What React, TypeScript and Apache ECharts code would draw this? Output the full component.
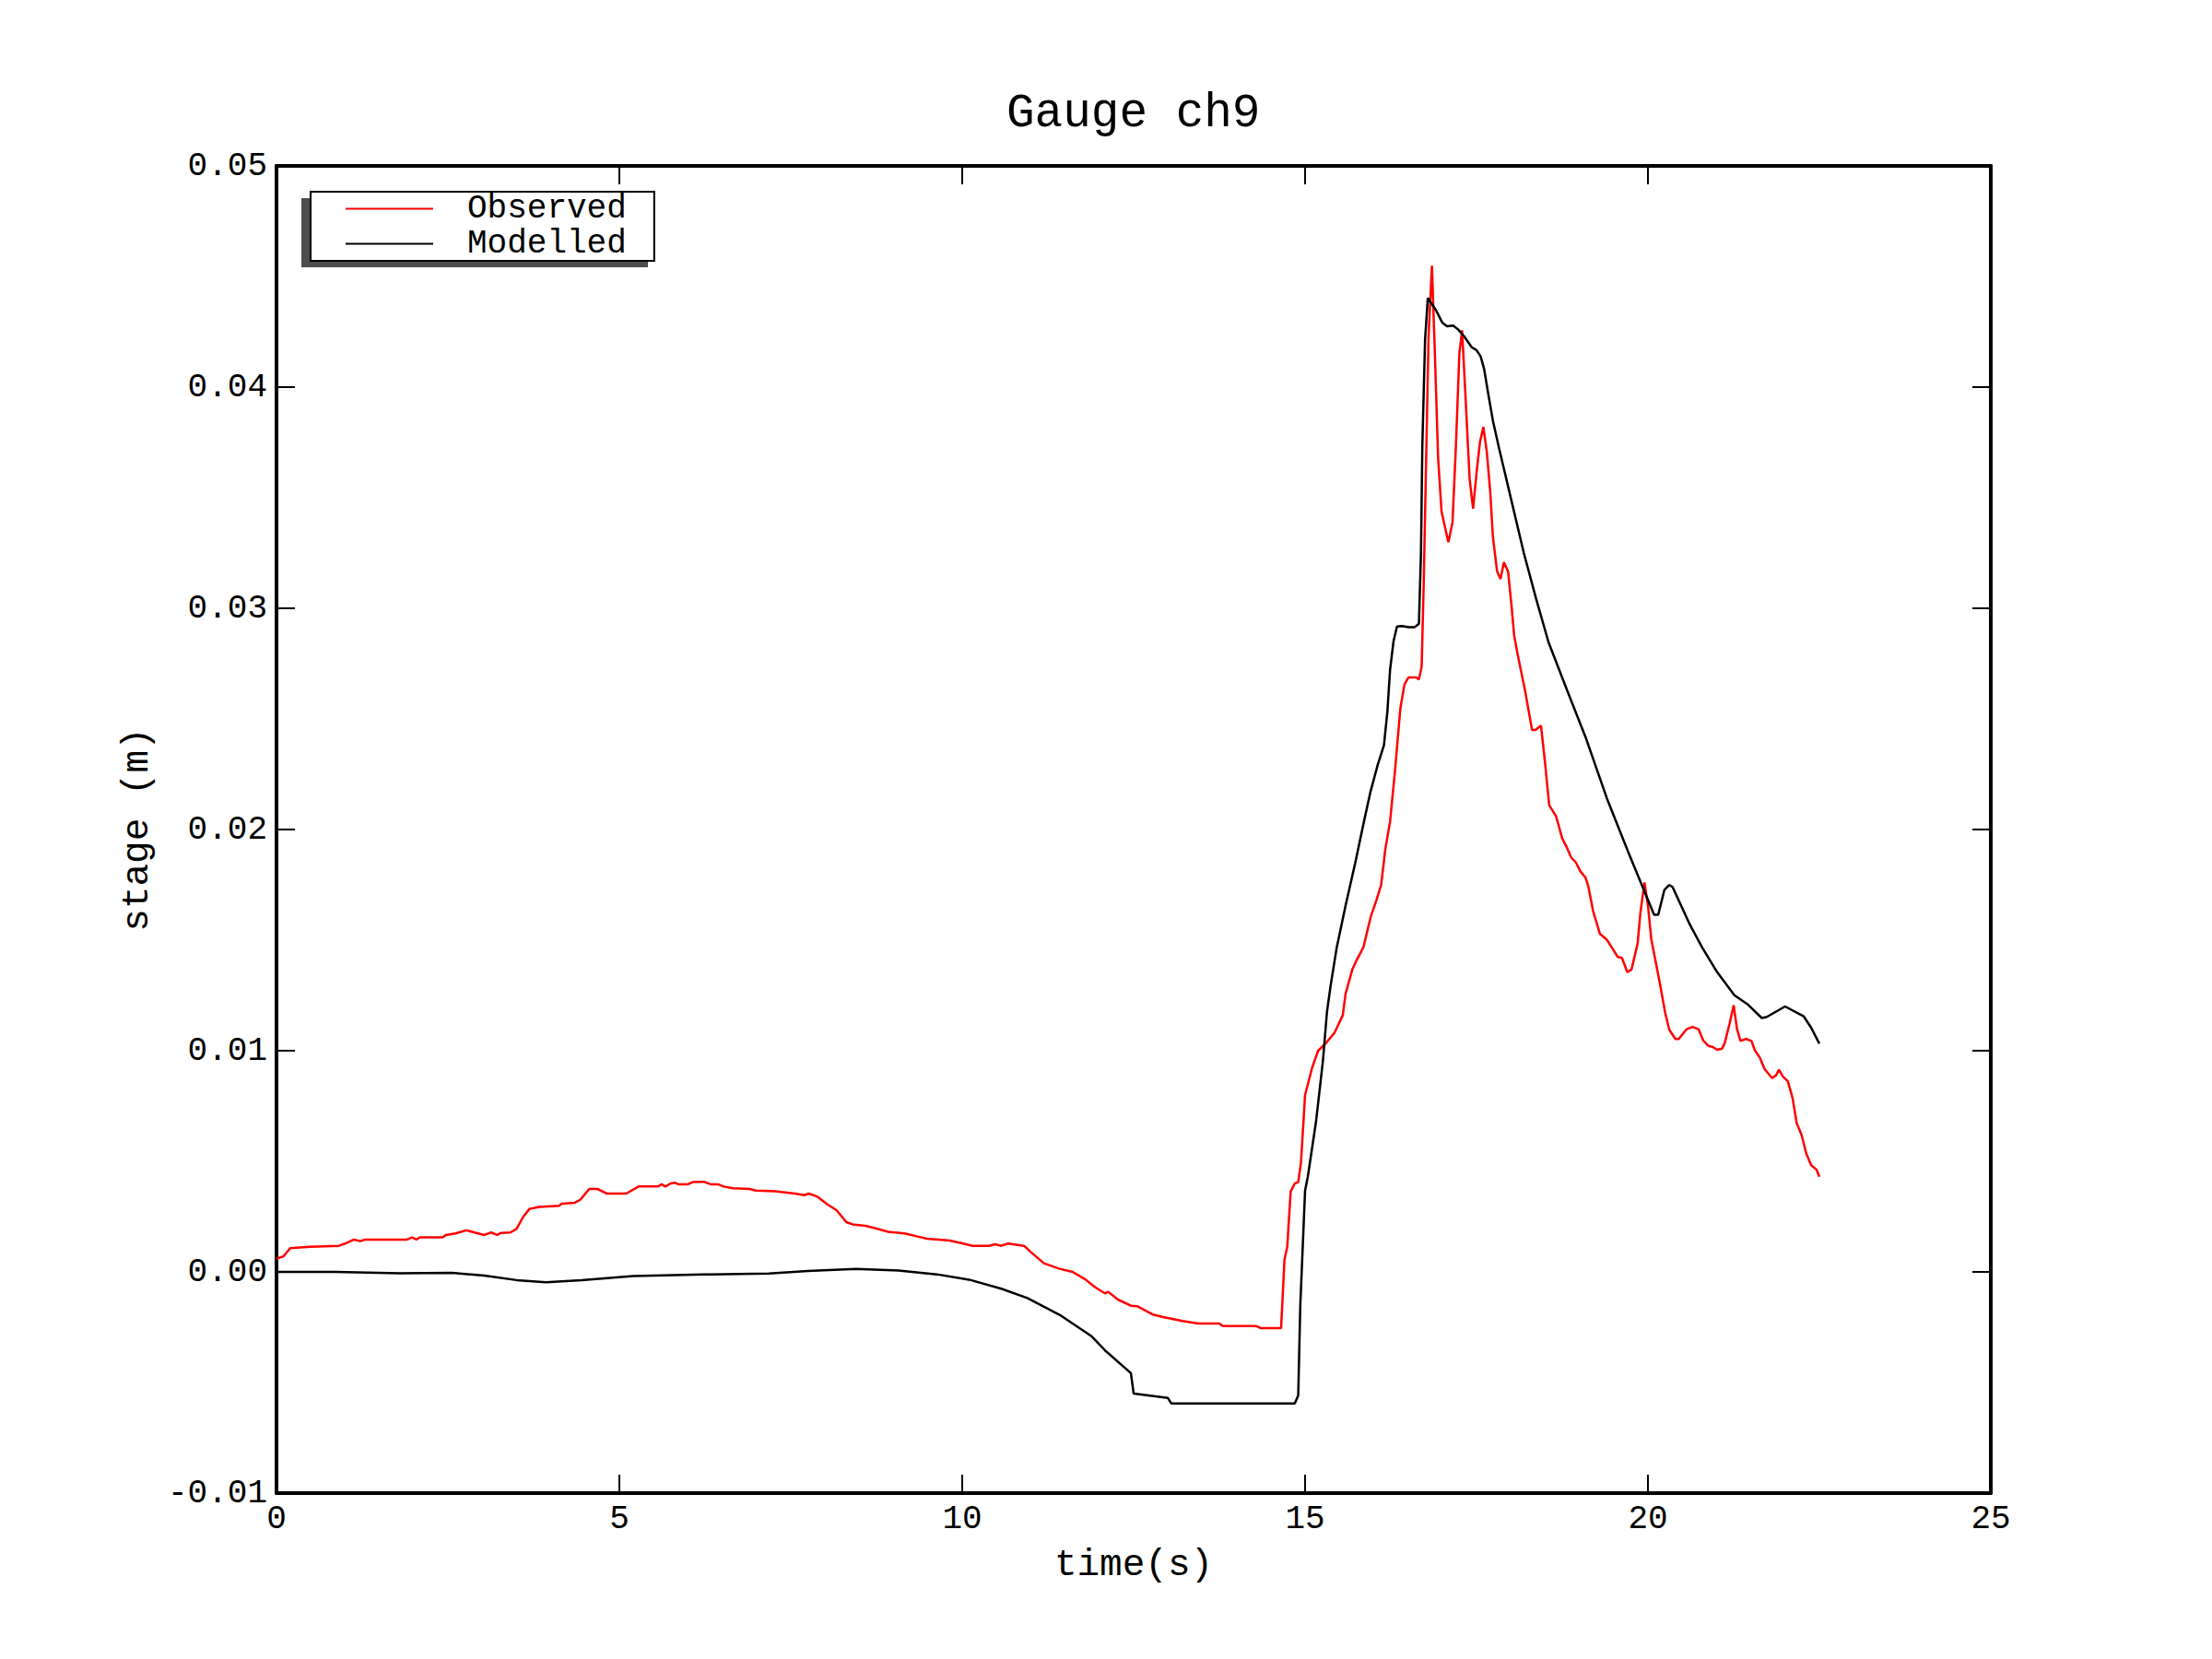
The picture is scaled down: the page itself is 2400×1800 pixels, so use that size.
import React, { useEffect, useRef } from "react";
import * as echarts from "echarts";

const obsT = [0, 0.1, 0.2, 0.49, 0.91, 1.0, 1.13, 1.22, 1.29, 1.9, 1.98, 2.04, 2.09, 2.42, 2.47, 2.61, 2.77, 2.89, 3.03, 3.13, 3.22, 3.27, 3.41, 3.5, 3.6, 3.69, 3.83, 4.12, 4.16, 4.35, 4.43, 4.56, 4.68, 4.82, 5.1, 5.28, 5.56, 5.62, 5.67, 5.75, 5.81, 5.86, 6.0, 6.07, 6.24, 6.33, 6.44, 6.52, 6.66, 6.9, 6.99, 7.27, 7.56, 7.7, 7.76, 7.89, 8.03, 8.17, 8.31, 8.4, 8.59, 8.74, 8.92, 9.16, 9.35, 9.49, 9.82, 10.0, 10.15, 10.39, 10.48, 10.57, 10.67, 10.9, 11.0, 11.19, 11.42, 11.61, 11.8, 11.94, 12.08, 12.13, 12.27, 12.46, 12.55, 12.79, 12.93, 13.21, 13.44, 13.75, 13.8, 14.29, 14.35, 14.65, 14.7, 14.74, 14.79, 14.85, 14.9, 14.94, 15.0, 15.1, 15.19, 15.3, 15.43, 15.55, 15.59, 15.69, 15.75, 15.85, 15.96, 16.04, 16.11, 16.17, 16.24, 16.31, 16.39, 16.45, 16.51, 16.62, 16.66, 16.7, 16.73, 16.8, 16.85, 16.89, 16.94, 16.99, 17.05, 17.09, 17.15, 17.2, 17.25, 17.29, 17.33, 17.4, 17.45, 17.5, 17.55, 17.6, 17.65, 17.7, 17.74, 17.8, 17.85, 17.9, 17.96, 18.01, 18.05, 18.1, 18.21, 18.31, 18.36, 18.44, 18.5, 18.56, 18.66, 18.75, 18.82, 18.88, 18.95, 19.01, 19.09, 19.13, 19.2, 19.3, 19.4, 19.47, 19.56, 19.62, 19.7, 19.76, 19.85, 19.89, 19.95, 20.0, 20.05, 20.11, 20.18, 20.25, 20.31, 20.4, 20.45, 20.56, 20.65, 20.74, 20.81, 20.88, 20.94, 21.01, 21.08, 21.12, 21.19, 21.25, 21.3, 21.35, 21.43, 21.51, 21.56, 21.63, 21.7, 21.81, 21.87, 21.91, 21.97, 22.04, 22.11, 22.17, 22.24, 22.31, 22.38, 22.46, 22.5];
const obsV = [0.0006, 0.0007, 0.00107, 0.00114, 0.00118, 0.00128, 0.00146, 0.00139, 0.00146, 0.00146, 0.00156, 0.00146, 0.00156, 0.00156, 0.00167, 0.00174, 0.00188, 0.00178, 0.00167, 0.00178, 0.00167, 0.00176, 0.00178, 0.00194, 0.0025, 0.00285, 0.00294, 0.00299, 0.00308, 0.00313, 0.00326, 0.00375, 0.00375, 0.00354, 0.00354, 0.00386, 0.00386, 0.00396, 0.00386, 0.004, 0.00403, 0.00396, 0.00396, 0.00406, 0.00407, 0.00396, 0.00396, 0.00386, 0.00378, 0.00375, 0.00368, 0.00365, 0.00354, 0.00347, 0.00354, 0.0034, 0.00306, 0.00278, 0.00225, 0.00215, 0.00208, 0.00197, 0.00181, 0.00174, 0.0016, 0.0015, 0.00142, 0.00129, 0.00118, 0.00118, 0.00125, 0.00118, 0.00128, 0.00118, 0.0009, 0.00039, 0.00014, 0.0, -0.00035, -0.0007, -0.00097, -0.0009, -0.00125, -0.00153, -0.00155, -0.00194, -0.00204, -0.00222, -0.00233, -0.00233, -0.00245, -0.00245, -0.00254, -0.00254, 0.00055, 0.00114, 0.00364, 0.004, 0.00406, 0.00493, 0.008, 0.0092, 0.01, 0.01033, 0.01081, 0.01161, 0.01257, 0.01368, 0.01408, 0.01467, 0.01608, 0.0168, 0.01751, 0.0191, 0.02038, 0.02261, 0.02548, 0.02657, 0.02688, 0.02688, 0.02678, 0.02736, 0.03111, 0.04222, 0.04549, 0.0418, 0.0368, 0.03438, 0.03354, 0.03299, 0.03389, 0.03736, 0.04153, 0.04257, 0.04014, 0.03583, 0.03451, 0.03611, 0.0375, 0.0382, 0.03708, 0.03528, 0.0332, 0.03167, 0.03132, 0.03208, 0.03167, 0.03014, 0.02875, 0.02792, 0.02625, 0.0245, 0.0245, 0.0247, 0.023, 0.0211, 0.0206, 0.0196, 0.01917, 0.01874, 0.01851, 0.01813, 0.01782, 0.01744, 0.01632, 0.01528, 0.01502, 0.01468, 0.01424, 0.0142, 0.01355, 0.01367, 0.01485, 0.01623, 0.01761, 0.01657, 0.01502, 0.01407, 0.01295, 0.01174, 0.01096, 0.01053, 0.01053, 0.01096, 0.01108, 0.01096, 0.01044, 0.01022, 0.01018, 0.01004, 0.01009, 0.01035, 0.01122, 0.01205, 0.01096, 0.01044, 0.01053, 0.01044, 0.01001, 0.0097, 0.00918, 0.00876, 0.00889, 0.00914, 0.00883, 0.00862, 0.00785, 0.00672, 0.0062, 0.00534, 0.00482, 0.00462, 0.0043];

const modT = [0, 0.86, 1.8, 2.56, 3.03, 3.5, 3.93, 4.45, 5.2, 6.33, 7.18, 7.75, 8.45, 9.07, 9.63, 10.1, 10.57, 10.95, 11.42, 11.89, 12.08, 12.46, 12.5, 13.0, 13.05, 14.85, 14.9, 14.93, 15.0, 15.04, 15.16, 15.26, 15.32, 15.37, 15.46, 15.59, 15.73, 15.86, 15.95, 16.06, 16.15, 16.2, 16.24, 16.29, 16.34, 16.41, 16.51, 16.6, 16.66, 16.69, 16.71, 16.75, 16.79, 16.91, 17.0, 17.07, 17.16, 17.23, 17.32, 17.43, 17.5, 17.56, 17.61, 17.67, 17.74, 17.83, 18.01, 18.19, 18.37, 18.55, 18.82, 19.09, 19.4, 19.71, 19.94, 20.09, 20.15, 20.24, 20.31, 20.36, 20.61, 20.79, 21.01, 21.26, 21.46, 21.66, 21.73, 22.0, 22.27, 22.38, 22.5];
const modV = [0, 0, -0.00006, -0.00004, -0.00017, -0.00037, -0.00047, -0.00037, -0.00019, -0.00011, -0.00007, 0.00004, 0.00014, 0.00006, -0.00011, -0.00035, -0.00076, -0.00118, -0.00194, -0.00292, -0.00354, -0.00458, -0.0055, -0.0057, -0.00595, -0.00595, -0.00558, -0.00153, 0.00368, 0.0043, 0.0068, 0.00954, 0.01177, 0.01289, 0.01464, 0.01655, 0.01847, 0.02038, 0.02166, 0.02293, 0.02381, 0.02532, 0.02724, 0.02851, 0.02918, 0.0292, 0.02915, 0.02915, 0.0293, 0.0325, 0.03736, 0.04215, 0.04403, 0.04347, 0.04292, 0.04275, 0.04278, 0.04261, 0.04229, 0.0418, 0.04167, 0.04139, 0.04083, 0.03972, 0.03847, 0.03722, 0.03486, 0.0325, 0.03042, 0.02847, 0.0263, 0.02418, 0.02142, 0.019, 0.01727, 0.01615, 0.01615, 0.01727, 0.01749, 0.0174, 0.01571, 0.01467, 0.01355, 0.01251, 0.01208, 0.01148, 0.01152, 0.012, 0.01156, 0.01104, 0.01032];

const seriesNames = ["Observed", "Modelled"];
const titleText = "Gauge ch9";
const xName = "time(s)";
const yName = "stage (m)";

const FONT = "'Liberation Mono', 'DejaVu Sans Mono', monospace";

export default function App() {
  const ref = useRef<HTMLDivElement>(null);
  useEffect(() => {
    if (!ref.current) return;
    const chart = echarts.init(ref.current, undefined, { renderer: "svg" });
    const axisLine = { show: true, onZero: false, lineStyle: { color: "#000", width: 4 } };
    const tick = { show: true, inside: true, length: 20, lineStyle: { color: "#000", width: 2 } };
    const xBase = { type: "value", min: 0, max: 25, interval: 5, splitLine: { show: false }, axisLine, axisTick: tick };
    const yBase = { type: "value", min: -0.01, max: 0.05, interval: 0.01, splitLine: { show: false }, axisLine, axisTick: tick };
    chart.setOption({
      animation: false,
      backgroundColor: "#fff",
      title: {
        text: titleText,
        left: 1092,
        top: 98,
        padding: 0,
        textStyle: { fontFamily: FONT, fontSize: 51, fontWeight: "normal", color: "#000" },
      },
      grid: { left: 300, right: 240, top: 180, bottom: 180, containLabel: false },
      legend: {
        data: seriesNames,
        orient: "vertical",
        left: 337,
        top: 208,
        padding: [0, 30, 0, 38],
        itemGap: 1,
        itemWidth: 95,
        itemHeight: 2,
        icon: "rect",
        selectedMode: false,
        backgroundColor: "#fff",
        borderColor: "#000",
        borderWidth: 2,
        borderRadius: 0,
        textStyle: { fontFamily: FONT, fontSize: 36, color: "#000", lineHeight: 37, padding: [0, 0, 0, 32] },
      },
      graphic: [
        { type: "rect", z: 1, shape: { x: 327, y: 215, width: 376, height: 75 }, style: { fill: "#4d4d4d" } },
      ],
      xAxis: [
        {
          ...xBase,
          position: "bottom",
          name: xName,
          nameLocation: "middle",
          nameGap: 57,
          nameTextStyle: { fontFamily: FONT, fontSize: 41, color: "#000" },
          axisLabel: { fontFamily: FONT, fontSize: 36, color: "#000", margin: 10 },
        },
        { ...xBase, position: "top", axisLabel: { show: false } },
      ],
      yAxis: [
        {
          ...yBase,
          position: "left",
          name: yName,
          nameLocation: "middle",
          nameRotate: 90,
          nameGap: 131,
          nameTextStyle: { fontFamily: FONT, fontSize: 41, color: "#000" },
          axisLabel: {
            fontFamily: FONT,
            fontSize: 36,
            color: "#000",
            margin: 10,
            formatter: (v: number) => v.toFixed(2),
          },
        },
        { ...yBase, position: "right", axisLabel: { show: false } },
      ],
      series: [
        {
          name: seriesNames[0],
          type: "line",
          xAxisIndex: 0,
          yAxisIndex: 0,
          data: obsT.map((t, i) => [t, obsV[i]]),
          symbol: "none",
          showSymbol: false,
          lineStyle: { color: "#ff0000", width: 2.5 },
          itemStyle: { color: "#ff0000" },
        },
        {
          name: seriesNames[1],
          type: "line",
          xAxisIndex: 0,
          yAxisIndex: 0,
          data: modT.map((t, i) => [t, modV[i]]),
          symbol: "none",
          showSymbol: false,
          lineStyle: { color: "#000000", width: 2.5 },
          itemStyle: { color: "#000000" },
        },
      ],
    });
    return () => chart.dispose();
  }, []);
  return <div ref={ref} style={{ position: "absolute", left: 0, top: 0, width: 2400, height: 1800 }} />;
}
